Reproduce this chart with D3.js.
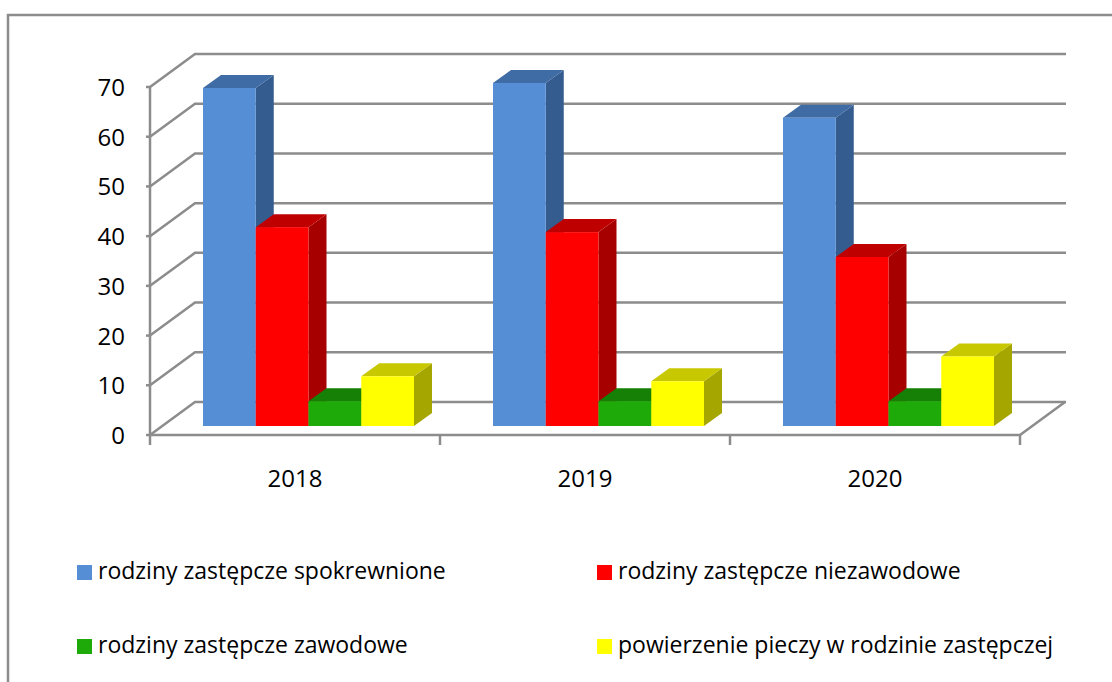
<!DOCTYPE html>
<html>
<head>
<meta charset="utf-8">
<script src="https://cdn.jsdelivr.net/npm/d3@7"></script>
<style>
  html, body { margin: 0; padding: 0; background: #fff; }
  svg { display: block; }
  text { font-family: "Open Sans", sans-serif; fill: #000; }
</style>
</head>
<body>
<svg id="chart"></svg>
<script>
const years = ["2018", "2019", "2020"];
const seriesNames = [
  "rodziny zastępcze spokrewnione",
  "rodziny zastępcze niezawodowe",
  "rodziny zastępcze zawodowe",
  "powierzenie pieczy w rodzinie zastępczej"
];
const spokrewnione = [68, 69, 62];
const niezawodowe = [40, 39, 34];
const zawodowe = [5, 5, 5];
const powierzenie = [10, 9, 14];
const yTicks = [0, 10, 20, 30, 40, 50, 60, 70];

const width = 1112, height = 682;
const series = [spokrewnione, niezawodowe, zawodowe, powierzenie];

// front, top, side shade of every bar
const colors = [
  ["#558ed5", "#3f6ca4", "#355c8e"],
  ["#ff0000", "#bf0000", "#a60000"],
  ["#1eaa08", "#167f06", "#167f06"],
  ["#ffff00", "#c8c800", "#a6a600"]
];
const grid = "#8c8c8c";

const svg = d3.select("#chart").attr("width", width).attr("height", height);

// outer frame, runs off the bottom of the picture
svg.append("rect")
  .attr("x", 8).attr("y", 15)
  .attr("width", 1200).attr("height", 800)
  .attr("fill", "none")
  .attr("stroke", grid)
  .attr("stroke-width", 2.5);

const x = d3.scaleBand().domain(years).range([150, 1020]);
const y = d3.scaleLinear().domain([0, 70]).range([435, 87]);
const inner = d3.scaleBand().domain(d3.range(series.length))
  .range([53, 264]);

const wallX = 45, wallY = -33;  // depth of the 3d box
const barX = 18, barY = -13;    // depth of a bar
const barLift = 9;              // bars stand a bit behind the front edge

// walls
const gridG = svg.append("g")
  .attr("fill", "none")
  .attr("stroke", grid)
  .attr("stroke-width", 2.5);

yTicks.forEach(t => {
  gridG.append("path").attr("d",
    "M150," + y(t) + "L" + (150 + wallX) + "," + (y(t) + wallY) + "L" + (1021 + wallX) + "," + (y(t) + wallY));
  gridG.append("path").attr("d", "M146," + y(t) + "H150");
});
gridG.append("path").attr("d", "M150," + y(70) + "V" + y(0) + "H1020l" + wallX + "," + wallY);
years.concat("end").forEach((yr, i) => {
  const tx = 150 + i * x.step();
  gridG.append("path").attr("d", "M" + tx + "," + y(0) + "V445");
});

// bars
years.forEach((yr, yi) => {
  series.forEach((vals, si) => {
    const x0 = x(yr) + inner(si), w = inner.bandwidth();
    const top = y(vals[yi]) - barLift, base = y(0) - barLift;
    const g = svg.append("g");
    g.append("path").attr("fill", colors[si][2]).attr("d",
      "M" + (x0 + w) + "," + top + "l" + barX + "," + barY + "V" + (base + barY) + "l" + (-barX) + "," + (-barY) + "Z");
    g.append("path").attr("fill", colors[si][1]).attr("d",
      "M" + x0 + "," + top + "l" + barX + "," + barY + "h" + w + "l" + (-barX) + "," + (-barY) + "Z");
    g.append("rect").attr("fill", colors[si][0])
      .attr("x", x0).attr("y", top)
      .attr("width", w).attr("height", base - top);
  });
});

// axis labels
svg.append("g").selectAll("text").data(yTicks).enter().append("text")
  .attr("x", 125).attr("y", d => y(d) + 9)
  .attr("text-anchor", "end")
  .style("font-size", "24px")
  .text(d => d);

svg.append("g").selectAll("text").data(years).enter().append("text")
  .attr("x", d => x(d) + x.bandwidth() / 2)
  .attr("y", 487)
  .attr("text-anchor", "middle")
  .style("font-size", "24px")
  .text(d => d);

// legend
const legendCol = d3.scaleOrdinal().domain([0, 1]).range([77, 597]);
const legendRow = d3.scaleOrdinal().domain([0, 1]).range([565, 639]);
const legend = svg.append("g").selectAll("g").data(seriesNames).enter().append("g")
  .attr("transform", (d, i) => "translate(" + legendCol(i % 2) + "," + legendRow(Math.floor(i / 2)) + ")");
legend.append("rect")
  .attr("width", 15).attr("height", 15)
  .attr("fill", (d, i) => colors[i][0]);
legend.append("text")
  .attr("x", 21).attr("y", 14)
  .style("font-size", "23px")
  .text(d => d);
</script>
</body>
</html>
